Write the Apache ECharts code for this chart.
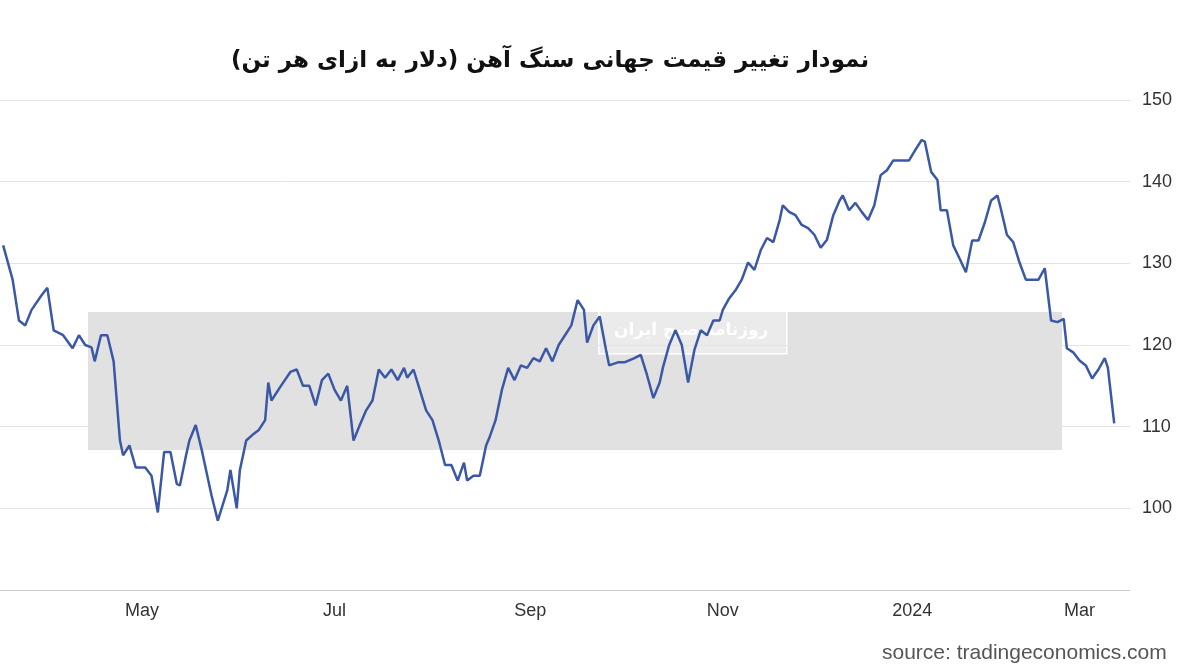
<!DOCTYPE html>
<html>
<head>
<meta charset="utf-8">
<script src="https://cdn.jsdelivr.net/npm/echarts@6/dist/echarts.min.js"></script>
<style>html,body{margin:0;padding:0;background:#fff}#c{width:1200px;height:672px}</style>
</head>
<body>
<div id="c"></div>
<script>
// days since 2023-03-18
const days = [0,3,5,7,9,12,14,16,19,22,24,26,28,29,31,33,35,37,38,40,42,45,47,49,51,53,55,56,58,59,61,63,66,68,71,72,74,75,77,79,81,83,84,85,88,91,93,95,97,99,101,103,105,107,109,111,113,115,117,119,121,123,125,127,128,130,132,134,136,138,140,142,144,146,147,149,151,153,154,156,158,160,162,164,166,168,170,172,174,176,178,180,182,184,185,187,189,191,192,195,197,200,202,204,206,208,209,211,213,215,217,219,221,223,225,227,228,230,232,234,236,238,240,242,244,246,247,249,251,253,255,257,259,261,263,265,266,268,270,272,274,276,278,280,282,284,287,289,291,292,294,296,297,299,301,303,305,307,309,311,313,315,316,318,320,322,324,326,328,330,332,334,336,337,339,341,343,345,347,349,350,352];
// iron ore price, USD per tonne
const prices = [132.2,128,123,122.4,124.3,126,127,121.8,121.2,119.6,121.2,120,119.7,118,121.2,121.2,118,108.3,106.5,107.7,105,105,104,99.5,106.9,106.9,103,102.8,106.6,108.3,110.2,107,101.6,98.5,102.2,104.7,100,104.7,108.3,109,109.6,110.8,115.4,113.2,115,116.7,117,115,115,112.6,115.7,116.5,114.5,113.2,115,108.3,110.2,112,113.2,117,116,117,115.7,117.2,116,117,114.5,112,110.8,108.3,105.3,105.3,103.4,105.6,103.4,104,104,107.7,108.6,110.8,114.5,117.2,115.7,117.5,117.2,118.4,118,119.6,118,120,121.2,122.4,125.5,124.3,120.3,122.4,123.5,119.4,117.5,117.9,117.9,118.4,118.8,116.3,113.5,115.4,117.2,120,121.8,120,115.4,119.4,121.8,121.2,123,123,124.3,125.7,126.7,128,130.1,129.2,131.6,133.1,132.6,135.3,137.1,136.3,135.9,134.7,134.3,133.5,131.9,132.9,135.9,137.7,138.3,136.5,137.4,136.3,135.3,137.1,140.8,141.4,142.6,142.6,142.6,143.9,145.1,144.9,141.2,140.2,136.5,136.5,132.2,130.6,128.9,132.8,132.8,135,137.7,138.3,136.8,133.5,132.6,130.1,128,128,128,129.4,123,122.8,123.2,119.6,119.1,118.1,117.5,115.9,117,118.4,117.2,110.4];
const monthLabels = ['May','Jul','Sep','Nov','2024','Mar'];
const monthTickDays = [44,105,167,228,288,341];
const yTicks = [100,110,120,130,140,150];

const labelMap = {};
monthTickDays.forEach((d, i) => { labelMap[d] = monthLabels[i]; });

const chart = echarts.init(document.getElementById('c'));
chart.setOption({
  animation: false,
  title: {
    text: 'نمودار تغییر قیمت جهانی سنگ آهن (دلار به ازای هر تن)',
    left: 545, top: 45, textAlign: 'center',
    textStyle: { fontFamily: 'DejaVu Sans', fontWeight: 'bold', fontSize: 23, color: '#111' }
  },
  graphic: [
    { type: 'rect', left: 88, top: 312, shape: { width: 974, height: 138 },
      style: { fill: 'rgba(200,200,200,0.55)' }, z: 0 },
    { type: 'rect', left: 598, top: 305, shape: { width: 188, height: 48 },
      style: { fill: 'rgba(255,255,255,0.35)', stroke: '#fff', lineWidth: 1.5 }, z: 0 },
    { type: 'text', left: 614, top: 322,
      style: { text: 'روزنامه صبح ایران', fill: '#fff', font: 'bold 17px DejaVu Sans' }, z: 0 },
    { type: 'text', left: 882, top: 643,
      style: { text: 'source: tradingeconomics.com', fill: '#555', font: '21px Liberation Sans' } }
  ],
  grid: { left: 0, top: 100, width: 1130, height: 490 },
  xAxis: {
    type: 'value', min: -1, max: 357,
    axisLine: { show: true, lineStyle: { color: '#ccc' } },
    axisTick: { show: false },
    splitLine: { show: false },
    axisLabel: {
      customValues: monthTickDays,
      formatter: v => labelMap[v] || '',
      color: '#333', fontSize: 18, fontFamily: 'Liberation Sans', margin: 12
    }
  },
  yAxis: {
    type: 'value', position: 'right', min: 90, max: 150, interval: 10,
    axisLine: { show: false }, axisTick: { show: false },
    splitLine: { lineStyle: { color: '#e3e3e3' } },
    axisLabel: {
      formatter: v => (yTicks.includes(v) ? String(v) : ''),
      color: '#333', fontSize: 18, fontFamily: 'Liberation Sans', margin: 12
    }
  },
  series: [{
    type: 'line', symbol: 'none', z: 5,
    data: days.map((d, i) => [d, prices[i]]),
    lineStyle: { color: '#3a58a6', width: 2.5 }
  }]
});
</script>
</body>
</html>
